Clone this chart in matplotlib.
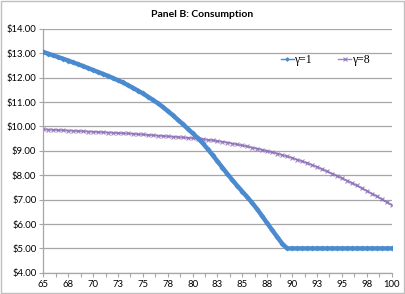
import matplotlib
matplotlib.use("Agg")
import matplotlib.pyplot as plt
from matplotlib.ticker import MultipleLocator, FuncFormatter
import numpy as np

# ages in half-year steps, 65 .. 100
age = np.arange(65, 100.01, 0.5)

cons_g1 = [13.05, 12.98, 12.91, 12.84, 12.77, 12.70, 12.62, 12.55, 12.47, 12.39,
           12.31, 12.23, 12.15, 12.07, 11.98, 11.89, 11.80, 11.69, 11.58, 11.47,
           11.35, 11.22, 11.09, 10.95, 10.80, 10.63, 10.46, 10.28, 10.10, 9.91,
           9.72, 9.53, 9.32, 9.08, 8.83, 8.57, 8.31, 8.05, 7.80, 7.56,
           7.33, 7.10, 6.86, 6.60, 6.32, 6.03, 5.75, 5.47, 5.20,
           5.00, 5.00, 5.00, 5.00, 5.00, 5.00, 5.00, 5.00, 5.00, 5.00, 5.00,
           5.00, 5.00, 5.00, 5.00, 5.00, 5.00, 5.00, 5.00, 5.00, 5.00, 5.00]

cons_g8 = [9.88, 9.87, 9.86, 9.85, 9.84, 9.83, 9.82, 9.81, 9.80, 9.79,
           9.78, 9.77, 9.76, 9.75, 9.74, 9.73, 9.72, 9.71, 9.70, 9.68,
           9.67, 9.65, 9.64, 9.62, 9.61, 9.59, 9.58, 9.56, 9.55, 9.53,
           9.52, 9.50, 9.48, 9.45, 9.43, 9.40, 9.37, 9.34, 9.30, 9.26,
           9.22, 9.18, 9.13, 9.09, 9.04, 8.99, 8.94, 8.89, 8.83, 8.77,
           8.71, 8.64, 8.57, 8.50, 8.42, 8.34, 8.25, 8.16, 8.07, 7.98,
           7.88, 7.78, 7.68, 7.58, 7.47, 7.36, 7.25, 7.14, 7.02, 6.90, 6.78]

blue = '#4A8BD0'
purple = '#8A6BB5'
grid_c = '#A6A6A6'

fig = plt.figure(figsize=(4.05, 2.94), dpi=100)
ax = fig.add_axes([0.107, 0.072, 0.86, 0.83])

ax.plot(age, cons_g1, color=blue, lw=3.2, marker='D', ms=3, mew=0, label='γ=1', zorder=3)
ax.plot(age, cons_g8, color=purple, lw=1.4, marker='x', ms=3.5, mew=0.8, alpha=0.8,
        label='γ=8', zorder=2)

ax.set_xlim(65, 100)
ax.set_ylim(4, 14)
ax.xaxis.set_major_locator(MultipleLocator(2.5))
ax.xaxis.set_minor_locator(MultipleLocator(1.25))
ax.xaxis.set_major_formatter(FuncFormatter(lambda v, p: '%d' % int(v + 0.5)))
ax.yaxis.set_major_locator(MultipleLocator(1))
ax.yaxis.set_major_formatter(FuncFormatter(lambda v, p: '$%.2f' % v))
ax.grid(axis='y', color=grid_c, lw=0.9)
ax.set_axisbelow(True)

for s in ['top', 'right']:
    ax.spines[s].set_visible(False)
for s in ['left', 'bottom']:
    ax.spines[s].set_color(grid_c)
    ax.spines[s].set_linewidth(0.9)
ax.tick_params(axis='both', which='both', color=grid_c, length=3, width=0.8,
               labelsize=6.8, pad=2)
for lab in ax.get_xticklabels() + ax.get_yticklabels():
    lab.set_family('Lato')

fig.text(0.5, 0.952, 'Panel B: Consumption', ha='center', va='center',
         fontsize=7.5, fontweight='bold', family='Lato')

leg = ax.legend(loc='upper left', bbox_to_anchor=(0.665, 0.92), ncol=2, frameon=False,
                prop={'family': 'Liberation Serif', 'size': 8.5}, handlelength=1.1,
                handletextpad=0.05, columnspacing=2.2, borderpad=0)
for h in leg.legend_handles:
    h.set_linewidth(1.0)
    h.set_markersize(2.5)

# chart outer border
fig.patches.append(plt.Rectangle((0.002, 0.003), 0.995, 0.993, transform=fig.transFigure,
                                 fill=False, edgecolor='#BFBFBF', lw=1))

fig.savefig('out.png', dpi=100)
